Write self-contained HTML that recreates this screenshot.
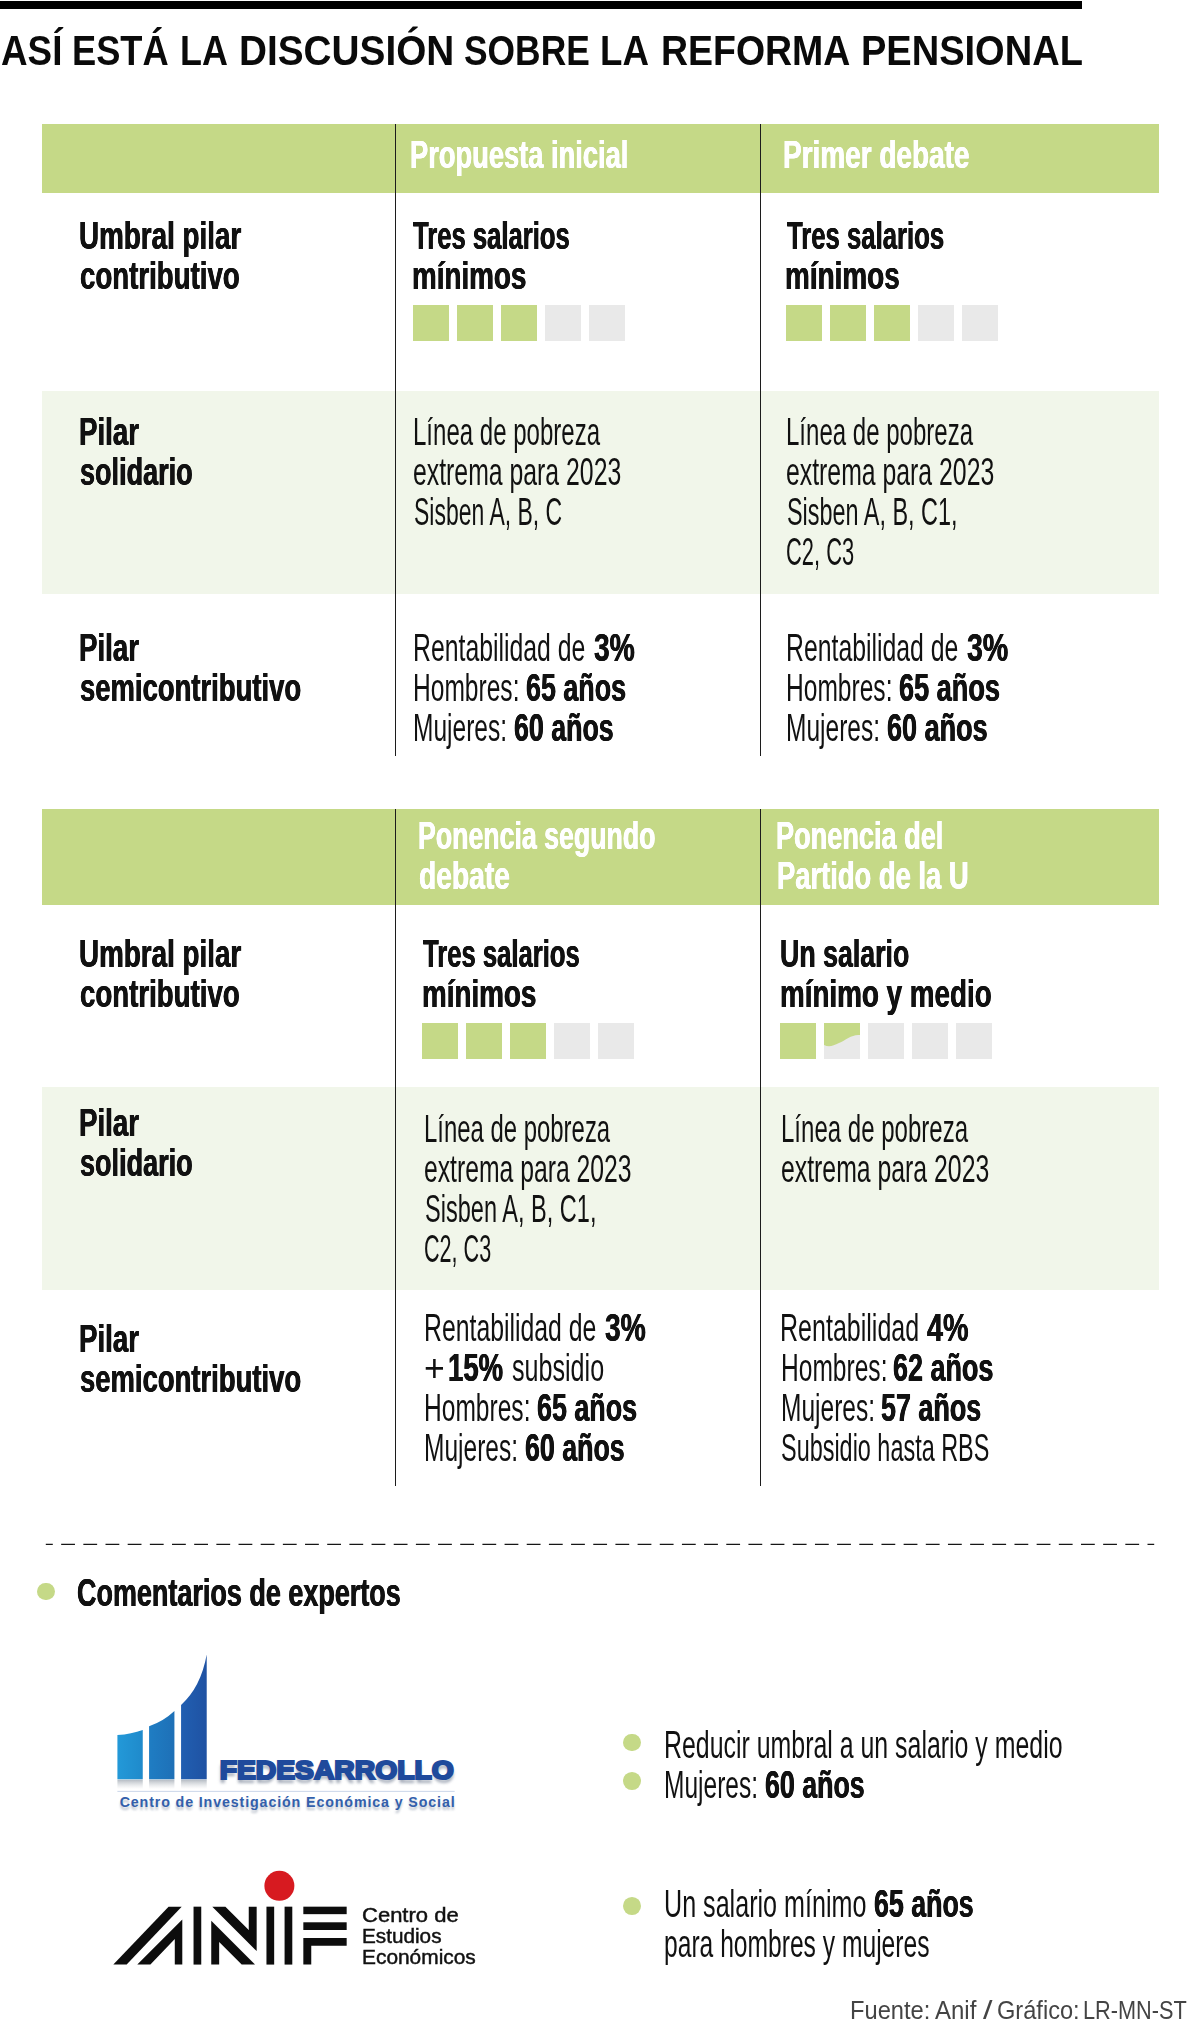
<!DOCTYPE html>
<html lang="es"><head><meta charset="utf-8"><title>Así está la discusión sobre la reforma pensional</title>
<style>
html,body{margin:0;padding:0;background:#fff;}
body{width:1200px;height:2032px;position:relative;overflow:hidden;font-family:"Liberation Sans",sans-serif;}
.r{position:absolute;}
.t{position:absolute;white-space:pre;line-height:1em;transform-origin:0 0;font-family:"Liberation Sans",sans-serif;font-weight:400;}
.t.b{font-weight:700;text-shadow:0.45px 0 0 currentColor,-0.45px 0 0 currentColor;}
.t.title{text-shadow:none;}
.t.anif{-webkit-text-stroke:0.45px #111;}
.g{background:#c5d987;}
.lg{background:#f1f6ea;}
.sq{position:absolute;width:36px;height:36px;}
.sq.on{background:#c5d987;}
.sq.off{background:#e9e9e9;}
.dot{position:absolute;width:17.8px;height:17.8px;border-radius:50%;background:#c5d987;}
.vl{position:absolute;width:1.5px;background:#1c1c1c;}
</style></head><body>
<!-- top bar -->
<div class="r" style="left:0;top:0.8px;width:1082px;height:8.4px;background:#000"></div>
<!-- table 1 -->
<div class="r g" style="left:41.5px;top:124px;width:1117px;height:68.5px"></div>
<div class="r lg" style="left:41.5px;top:390.6px;width:1117px;height:203px"></div>
<div class="vl" style="left:394.5px;top:124px;height:631.7px"></div>
<div class="vl" style="left:759.5px;top:124px;height:631.7px"></div>
<!-- table 2 -->
<div class="r g" style="left:41.5px;top:809px;width:1117px;height:96px"></div>
<div class="r lg" style="left:41.5px;top:1087px;width:1117px;height:203px"></div>
<div class="vl" style="left:394.5px;top:809px;height:677px"></div>
<div class="vl" style="left:759.5px;top:809px;height:677px"></div>
<div class="sq on" style="left:413px;top:305px"></div>
<div class="sq on" style="left:457px;top:305px"></div>
<div class="sq on" style="left:501px;top:305px"></div>
<div class="sq off" style="left:545px;top:305px"></div>
<div class="sq off" style="left:589px;top:305px"></div>
<div class="sq on" style="left:785.5px;top:305px"></div>
<div class="sq on" style="left:829.5px;top:305px"></div>
<div class="sq on" style="left:873.5px;top:305px"></div>
<div class="sq off" style="left:917.5px;top:305px"></div>
<div class="sq off" style="left:961.5px;top:305px"></div>
<div class="sq on" style="left:422px;top:1022.5px"></div>
<div class="sq on" style="left:466px;top:1022.5px"></div>
<div class="sq on" style="left:510px;top:1022.5px"></div>
<div class="sq off" style="left:554px;top:1022.5px"></div>
<div class="sq off" style="left:598px;top:1022.5px"></div>
<div class="sq on" style="left:780.2px;top:1022.5px"></div>
<div class="sq off" style="left:824.2px;top:1022.5px"></div>
<div class="sq off" style="left:868.2px;top:1022.5px"></div>
<div class="sq off" style="left:912.2px;top:1022.5px"></div>
<div class="sq off" style="left:956.2px;top:1022.5px"></div>
<svg class="r" style="left:824.2px;top:1022.5px" width="36" height="36" viewBox="0 0 36 36"><path d="M0 0H36V12C28 11 22 17 15 20C9 23 5 24.500 0 22Z" fill="#c5d987"/></svg>
<!-- dashed -->
<svg class="r" style="left:0;top:1540px" width="1200" height="8" viewBox="0 0 1200 8"><line x1="45.8" y1="4.4" x2="1154.2" y2="4.4" stroke="#161616" stroke-width="1.3" stroke-dasharray="13.8 8.37" stroke-dashoffset="6.8"/></svg>
<div class="dot" style="left:37.2px;top:1582.6px"></div>
<div class="dot" style="left:623px;top:1733.6px"></div>
<div class="dot" style="left:623px;top:1772.3px"></div>
<div class="dot" style="left:623px;top:1897px"></div>
<!--LOGOS_START--><!-- Fedesarrollo logo -->
<svg class="r" style="left:100px;top:1640px" width="380" height="190" viewBox="0 0 1200 600">
<defs>
<linearGradient id="fb1" x1="0" x2="1" y1="0" y2="0"><stop offset="0" stop-color="#2399d8"/><stop offset="1" stop-color="#1f8acb"/></linearGradient>
<linearGradient id="fb2" x1="0" x2="1" y1="0" y2="0"><stop offset="0" stop-color="#1f7dc3"/><stop offset="1" stop-color="#1e70b7"/></linearGradient>
<linearGradient id="fb3" x1="0" x2="1" y1="0" y2="0"><stop offset="0" stop-color="#215fb1"/><stop offset="1" stop-color="#1f52a3"/></linearGradient>
<linearGradient id="fsh" x1="0" x2="0" y1="0" y2="1"><stop offset="0" stop-color="#9aa3ad" stop-opacity=".75"/><stop offset="1" stop-color="#c8ccd2" stop-opacity="0"/></linearGradient>
<filter id="fblur" x="-5%" y="-30%" width="110%" height="180%"><feGaussianBlur stdDeviation="5"/></filter>
<filter id="fblur2" x="-5%" y="-50%" width="110%" height="220%"><feGaussianBlur stdDeviation="4"/></filter>
</defs>
<rect x="55" y="441" width="80" height="30" fill="url(#fsh)"/>
<rect x="155" y="441" width="80" height="30" fill="url(#fsh)"/>
<rect x="256" y="441" width="81" height="30" fill="url(#fsh)"/>
<path d="M55 440V300Q100 297 135 284V440Z" fill="url(#fb1)"/>
<path d="M155 440V272Q200 257 235 224V440Z" fill="url(#fb2)"/>
<path d="M256 440V205Q318 150 337 46V440Z" fill="url(#fb3)"/>
<text x="375" y="453" font-family="'Liberation Sans',sans-serif" font-weight="700" font-size="84" textLength="745" lengthAdjust="spacingAndGlyphs" fill="#8f98a8" opacity=".8" filter="url(#fblur)">FEDESARROLLO</text>
<text x="378" y="440" font-family="'Liberation Sans',sans-serif" font-weight="700" font-size="84" textLength="739" lengthAdjust="spacingAndGlyphs" fill="#1f4a9c" stroke="#1f4a9c" stroke-width="7" stroke-linejoin="miter">FEDESARROLLO</text>
<line x1="55" y1="478" x2="1120" y2="478" stroke="#a9bcda" stroke-width="2"/>
<text x="62" y="538" font-family="'Liberation Sans',sans-serif" font-weight="700" font-size="45" textLength="1058" lengthAdjust="spacing" fill="#aab2c0" opacity=".8" filter="url(#fblur2)">Centro de Investigación Económica y Social</text>
<text x="62" y="528" font-family="'Liberation Sans',sans-serif" font-weight="700" font-size="45" textLength="1058" lengthAdjust="spacing" fill="#335fab">Centro de Investigación Económica y Social</text>
</svg>
<!-- ANIF logo -->
<svg class="r" style="left:105px;top:1865px" width="250" height="110" viewBox="0 0 1200 528">
<circle cx="837" cy="100" r="72" fill="#d71a20"/>
<g fill="#0d0d0d">
<path d="M40 478H104L368 200H305Z"/>
<path d="M155 478H218L335 355V478H371V262Z"/>
<rect x="425" y="200" width="37" height="278"/>
<path d="M515 200H578L690 312V200H728V413Z"/>
<path d="M510 268L720 478H656L548 370V478H510Z"/>
<rect x="775" y="200" width="37" height="278"/>
<rect x="862" y="200" width="37" height="278"/>
<rect x="952" y="200" width="208" height="36"/>
<rect x="952" y="275" width="208" height="37"/>
<path d="M952 350H1160V388H990V478H952Z"/>
</g>
</svg>
<!--LOGOS_END-->
<span class="t b title" style="left:0.89px;top:29.70px;font-size:42.3px;color:#0a0a0a;transform:scaleX(0.8703)">ASÍ</span>
<span class="t b title" style="left:72.34px;top:29.70px;font-size:42.3px;color:#0a0a0a;transform:scaleX(0.8570)">ESTÁ</span>
<span class="t b title" style="left:180.29px;top:29.70px;font-size:42.3px;color:#0a0a0a;transform:scaleX(0.8486)">LA</span>
<span class="t b title" style="left:238.51px;top:29.70px;font-size:42.3px;color:#0a0a0a;transform:scaleX(0.9161)">DISCUSIÓN</span>
<span class="t b title" style="left:463.61px;top:29.70px;font-size:42.3px;color:#0a0a0a;transform:scaleX(0.8362)">SOBRE</span>
<span class="t b title" style="left:600.15px;top:29.70px;font-size:42.3px;color:#0a0a0a;transform:scaleX(0.8672)">LA</span>
<span class="t b title" style="left:661.18px;top:29.70px;font-size:42.3px;color:#0a0a0a;transform:scaleX(0.8854)">REFORMA</span>
<span class="t b title" style="left:861.05px;top:29.70px;font-size:42.3px;color:#0a0a0a;transform:scaleX(0.8991)">PENSIONAL</span>
<span class="t b" style="left:409.75px;top:135.75px;font-size:38.5px;color:#fff;transform:scaleX(0.7087)">Propuesta inicial</span>
<span class="t b" style="left:782.59px;top:135.75px;font-size:38.5px;color:#fff;transform:scaleX(0.7263)">Primer debate</span>
<span class="t b" style="left:79.21px;top:216.75px;font-size:38.5px;color:#111;transform:scaleX(0.7223)">Umbral pilar</span>
<span class="t b" style="left:80.03px;top:256.75px;font-size:38.5px;color:#111;transform:scaleX(0.7181)">contributivo</span>
<span class="t b" style="left:412.84px;top:216.75px;font-size:38.5px;color:#111;transform:scaleX(0.6659)">Tres salarios</span>
<span class="t b" style="left:411.53px;top:256.75px;font-size:38.5px;color:#111;transform:scaleX(0.7227)">mínimos</span>
<span class="t b" style="left:786.79px;top:216.75px;font-size:38.5px;color:#111;transform:scaleX(0.6674)">Tres salarios</span>
<span class="t b" style="left:785.44px;top:256.75px;font-size:38.5px;color:#111;transform:scaleX(0.7249)">mínimos</span>
<span class="t b" style="left:79.47px;top:412.75px;font-size:38.5px;color:#111;transform:scaleX(0.7191)">Pilar</span>
<span class="t b" style="left:79.88px;top:452.75px;font-size:38.5px;color:#111;transform:scaleX(0.7023)">solidario</span>
<span class="t l" style="left:412.62px;top:412.75px;font-size:38.5px;color:#111;transform:scaleX(0.6240)">Línea de pobreza</span>
<span class="t l" style="left:413.28px;top:452.75px;font-size:38.5px;color:#111;transform:scaleX(0.6444)">extrema para 2023</span>
<span class="t l" style="left:413.83px;top:492.75px;font-size:38.5px;color:#111;transform:scaleX(0.5970)">Sisben A, B, C</span>
<span class="t l" style="left:785.62px;top:412.75px;font-size:38.5px;color:#111;transform:scaleX(0.6240)">Línea de pobreza</span>
<span class="t l" style="left:786.28px;top:452.75px;font-size:38.5px;color:#111;transform:scaleX(0.6444)">extrema para 2023</span>
<span class="t l" style="left:786.78px;top:492.75px;font-size:38.5px;color:#111;transform:scaleX(0.6080)">Sisben A, B, C1,</span>
<span class="t l" style="left:786.17px;top:532.75px;font-size:38.5px;color:#111;transform:scaleX(0.5686)">C2, C3</span>
<span class="t b" style="left:79.47px;top:628.75px;font-size:38.5px;color:#111;transform:scaleX(0.7190)">Pilar</span>
<span class="t b" style="left:79.88px;top:668.75px;font-size:38.5px;color:#111;transform:scaleX(0.7130)">semicontributivo</span>
<span class="t l seg" style="left:412.56px;top:628.75px;font-size:38.5px;color:#111;transform:scaleX(0.6443)">Rentabilidad de</span>
<span class="t b seg" style="left:593.86px;top:628.75px;font-size:38.5px;color:#111;transform:scaleX(0.7334)">3%</span>
<span class="t l seg" style="left:412.61px;top:668.75px;font-size:38.5px;color:#111;transform:scaleX(0.6379)">Hombres:</span>
<span class="t b seg" style="left:526.08px;top:668.75px;font-size:38.5px;color:#111;transform:scaleX(0.6979)">65 años</span>
<span class="t l seg" style="left:412.62px;top:708.75px;font-size:38.5px;color:#111;transform:scaleX(0.6368)">Mujeres:</span>
<span class="t b seg" style="left:514.12px;top:708.75px;font-size:38.5px;color:#111;transform:scaleX(0.6952)">60 años</span>
<span class="t l seg" style="left:785.56px;top:628.75px;font-size:38.5px;color:#111;transform:scaleX(0.6443)">Rentabilidad de</span>
<span class="t b seg" style="left:966.83px;top:628.75px;font-size:38.5px;color:#111;transform:scaleX(0.7411)">3%</span>
<span class="t l seg" style="left:785.61px;top:668.75px;font-size:38.5px;color:#111;transform:scaleX(0.6379)">Hombres:</span>
<span class="t b seg" style="left:899.03px;top:668.75px;font-size:38.5px;color:#111;transform:scaleX(0.7041)">65 años</span>
<span class="t l seg" style="left:785.62px;top:708.75px;font-size:38.5px;color:#111;transform:scaleX(0.6368)">Mujeres:</span>
<span class="t b seg" style="left:887.07px;top:708.75px;font-size:38.5px;color:#111;transform:scaleX(0.7018)">60 años</span>
<span class="t b" style="left:417.96px;top:816.65px;font-size:38.5px;color:#fff;transform:scaleX(0.6938)">Ponencia segundo</span>
<span class="t b" style="left:418.89px;top:856.65px;font-size:38.5px;color:#fff;transform:scaleX(0.7333)">debate</span>
<span class="t b" style="left:775.90px;top:816.65px;font-size:38.5px;color:#fff;transform:scaleX(0.7046)">Ponencia del</span>
<span class="t b" style="left:776.74px;top:856.65px;font-size:38.5px;color:#fff;transform:scaleX(0.7108)">Partido de la U</span>
<span class="t b" style="left:79.21px;top:934.65px;font-size:38.5px;color:#111;transform:scaleX(0.7223)">Umbral pilar</span>
<span class="t b" style="left:80.03px;top:974.65px;font-size:38.5px;color:#111;transform:scaleX(0.7181)">contributivo</span>
<span class="t b" style="left:422.84px;top:934.65px;font-size:38.5px;color:#111;transform:scaleX(0.6659)">Tres salarios</span>
<span class="t b" style="left:421.53px;top:974.65px;font-size:38.5px;color:#111;transform:scaleX(0.7227)">mínimos</span>
<span class="t b" style="left:780.35px;top:934.65px;font-size:38.5px;color:#111;transform:scaleX(0.6947)">Un salario</span>
<span class="t b" style="left:779.50px;top:974.65px;font-size:38.5px;color:#111;transform:scaleX(0.7223)">mínimo y medio</span>
<span class="t b" style="left:79.47px;top:1103.65px;font-size:38.5px;color:#111;transform:scaleX(0.7191)">Pilar</span>
<span class="t b" style="left:79.88px;top:1143.65px;font-size:38.5px;color:#111;transform:scaleX(0.7023)">solidario</span>
<span class="t l" style="left:423.62px;top:1109.65px;font-size:38.5px;color:#111;transform:scaleX(0.6211)">Línea de pobreza</span>
<span class="t l" style="left:424.29px;top:1149.65px;font-size:38.5px;color:#111;transform:scaleX(0.6424)">extrema para 2023</span>
<span class="t l" style="left:424.76px;top:1189.65px;font-size:38.5px;color:#111;transform:scaleX(0.6116)">Sisben A, B, C1,</span>
<span class="t l" style="left:424.23px;top:1229.65px;font-size:38.5px;color:#111;transform:scaleX(0.5607)">C2, C3</span>
<span class="t l" style="left:780.57px;top:1109.65px;font-size:38.5px;color:#111;transform:scaleX(0.6240)">Línea de pobreza</span>
<span class="t l" style="left:781.23px;top:1149.65px;font-size:38.5px;color:#111;transform:scaleX(0.6444)">extrema para 2023</span>
<span class="t b" style="left:79.47px;top:1319.65px;font-size:38.5px;color:#111;transform:scaleX(0.7190)">Pilar</span>
<span class="t b" style="left:79.88px;top:1359.65px;font-size:38.5px;color:#111;transform:scaleX(0.7130)">semicontributivo</span>
<span class="t l seg" style="left:423.56px;top:1308.65px;font-size:38.5px;color:#111;transform:scaleX(0.6443)">Rentabilidad de</span>
<span class="t b seg" style="left:604.86px;top:1308.65px;font-size:38.5px;color:#111;transform:scaleX(0.7334)">3%</span>
<span class="t l seg" style="left:423.78px;top:1348.65px;font-size:38.5px;color:#111;transform:scaleX(0.9235)">+</span>
<span class="t b seg" style="left:448.42px;top:1348.65px;font-size:38.5px;color:#111;transform:scaleX(0.7148)">15%</span>
<span class="t l seg" style="left:511.50px;top:1348.65px;font-size:38.5px;color:#111;transform:scaleX(0.6522)">subsidio</span>
<span class="t l seg" style="left:423.61px;top:1388.65px;font-size:38.5px;color:#111;transform:scaleX(0.6379)">Hombres:</span>
<span class="t b seg" style="left:537.08px;top:1388.65px;font-size:38.5px;color:#111;transform:scaleX(0.6979)">65 años</span>
<span class="t l seg" style="left:423.62px;top:1428.65px;font-size:38.5px;color:#111;transform:scaleX(0.6368)">Mujeres:</span>
<span class="t b seg" style="left:525.12px;top:1428.65px;font-size:38.5px;color:#111;transform:scaleX(0.6952)">60 años</span>
<span class="t l seg" style="left:780.47px;top:1308.65px;font-size:38.5px;color:#111;transform:scaleX(0.6504)">Rentabilidad</span>
<span class="t b seg" style="left:927.07px;top:1308.65px;font-size:38.5px;color:#111;transform:scaleX(0.7480)">4%</span>
<span class="t l seg" style="left:780.56px;top:1348.65px;font-size:38.5px;color:#111;transform:scaleX(0.6379)">Hombres:</span>
<span class="t b seg" style="left:893.08px;top:1348.65px;font-size:38.5px;color:#111;transform:scaleX(0.7000)">62 años</span>
<span class="t l seg" style="left:780.57px;top:1388.65px;font-size:38.5px;color:#111;transform:scaleX(0.6368)">Mujeres:</span>
<span class="t b seg" style="left:881.36px;top:1388.65px;font-size:38.5px;color:#111;transform:scaleX(0.6990)">57 años</span>
<span class="t l" style="left:780.81px;top:1428.65px;font-size:38.5px;color:#111;transform:scaleX(0.6085)">Subsidio hasta RBS</span>
<span class="t b" style="left:76.94px;top:1573.65px;font-size:38.5px;color:#111;transform:scaleX(0.7006)">Comentarios de expertos</span>
<span class="t l" style="left:663.50px;top:1726.15px;font-size:38.5px;color:#111;transform:scaleX(0.6467)">Reducir umbral a un salario y medio</span>
<span class="t l seg" style="left:663.62px;top:1766.15px;font-size:38.5px;color:#111;transform:scaleX(0.6368)">Mujeres:</span>
<span class="t b seg" style="left:765.12px;top:1766.15px;font-size:38.5px;color:#111;transform:scaleX(0.6952)">60 años</span>
<span class="t l seg" style="left:663.62px;top:1884.65px;font-size:38.5px;color:#111;transform:scaleX(0.6524)">Un salario mínimo</span>
<span class="t b seg" style="left:874.17px;top:1884.65px;font-size:38.5px;color:#111;transform:scaleX(0.6952)">65 años</span>
<span class="t l" style="left:663.78px;top:1924.65px;font-size:38.5px;color:#111;transform:scaleX(0.6396)">para hombres y mujeres</span>
<span class="t l src" style="left:849.85px;top:1997.70px;font-size:24.9px;color:#444;transform:scaleX(0.9515)">Fuente:</span>
<span class="t l src" style="left:934.74px;top:1997.70px;font-size:24.9px;color:#444;transform:scaleX(0.9644)">Anif</span>
<span class="t l src" style="left:983.26px;top:1997.70px;font-size:24.9px;color:#444;transform:scaleX(1.3704)">/</span>
<span class="t l src" style="left:996.67px;top:1997.70px;font-size:24.9px;color:#444;transform:scaleX(0.9479)">Gráfico:</span>
<span class="t l src" style="left:1082.82px;top:1997.70px;font-size:24.9px;color:#444;transform:scaleX(0.8725)">LR-MN-ST</span>
<span class="t l anif" style="left:362.04px;top:1905.70px;font-size:19.8px;color:#111;transform:scaleX(1.1124)">Centro de</span>
<span class="t l anif" style="left:362.23px;top:1926.70px;font-size:19.8px;color:#111;transform:scaleX(1.0479)">Estudios</span>
<span class="t l anif" style="left:362.22px;top:1948.30px;font-size:19.8px;color:#111;transform:scaleX(1.0561)">Económicos</span>
</body></html>
